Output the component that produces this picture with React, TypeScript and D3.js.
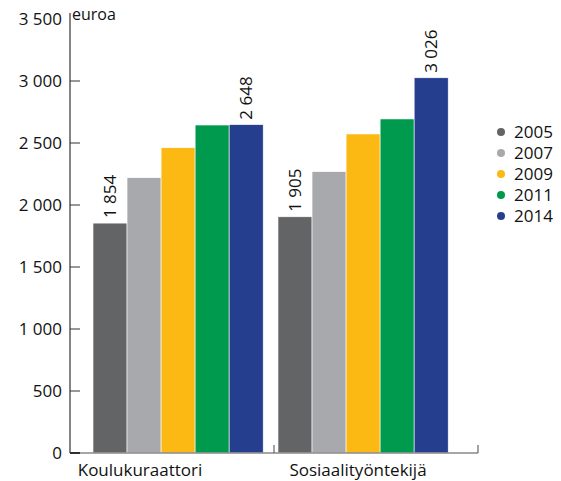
import React from "react";
import * as d3 from "d3";

const categories = ["Koulukuraattori", "Sosiaalityöntekijä"];
const years = ["2005", "2007", "2009", "2011", "2014"];
const koulukuraattori = [1854, 2220, 2462, 2645, 2648];
const sosiaalityontekija = [1905, 2269, 2573, 2694, 3026];
const seriesValues = [koulukuraattori, sosiaalityontekija];
const labeledIndex = [
  [0, 4],
  [0, 4],
];
const yTicks = [0, 500, 1000, 1500, 2000, 2500, 3000, 3500];
const colors = ["#636466", "#a7a9ac", "#fdb913", "#009a4e", "#253f8e"];

const fmt = (v: number) => {
  const s = String(v);
  return s.length > 3 ? s.slice(0, s.length - 3) + "\u00a0" + s.slice(-3) : s;
};

const FONT = "'Open Sans', 'Noto Sans', sans-serif";

export default function App() {
  const W = 561;
  const H = 481;
  const axisX = 70;
  const y = d3.scaleLinear().domain([0, 3000]).range([453, 81]);
  const axisBand = d3.scaleBand<string>().domain(categories).range([70, 478]);
  const groupBand = d3
    .scaleBand<string>()
    .domain(categories)
    .range([74.5, 466.7])
    .paddingInner(0.08)
    .paddingOuter(0.1);
  const yearBand = d3
    .scaleBand<string>()
    .domain(years)
    .range([0, groupBand.bandwidth()]);
  const labelCenters = [140, 358];

  return (
    <svg
      width={W}
      height={H}
      style={{ position: "absolute", left: 0, top: 0, background: "#fff" }}
      fontFamily={FONT}
    >
      {/* bars */}
      {categories.map((c, ci) => (
        <g key={c} transform={`translate(${groupBand(c)},0)`}>
          {years.map((yr, yi) => {
            const v = seriesValues[ci][yi];
            const x = yearBand(yr)!;
            return (
              <rect
                key={yr}
                x={x}
                y={y(v)}
                width={yearBand.bandwidth()}
                height={y(0) - y(v)}
                fill={colors[yi]}
                stroke="#fff"
                strokeWidth={0.6}
              />
            );
          })}
          {labeledIndex[ci].map((yi) => {
            const v = seriesValues[ci][yi];
            const cx = yearBand(years[yi])! + yearBand.bandwidth() / 2 + 6;
            const cy = y(v) - 5;
            return (
              <text
                key={yi}
                transform={`translate(${cx},${cy}) rotate(-90)`}
                fontSize={17}
                fill="#111"
              >
                {fmt(v)}
              </text>
            );
          })}
        </g>
      ))}

      {/* y axis */}
      <line x1={axisX} x2={axisX} y1={13} y2={y(0)} stroke="#333" strokeWidth={1.2} />
      {yTicks.map((t) => (
        <g key={t}>
          {t > 0 && t < 3500 && (
            <line x1={axisX} x2={axisX + 10} y1={y(t)} y2={y(t)} stroke="#333" strokeWidth={1} />
          )}
          <text
            x={62}
            y={y(t)}
            dy="0.35em"
            textAnchor="end"
            fontSize={17}
            fill="#111"
          >
            {fmt(t)}
          </text>
        </g>
      ))}
      <text x={72} y={20} fontSize={16} fill="#111">
        euroa
      </text>

      {/* x axis */}
      <line x1={axisX} x2={478} y1={y(0)} y2={y(0)} stroke="#888" strokeWidth={1.6} />
      <line x1={axisX} x2={axisX + 10} y1={y(0)} y2={y(0)} stroke="#111" strokeWidth={1.6} />
      {categories.map((c) => {
        const bx = axisBand(c)! + axisBand.bandwidth();
        return (
          <line key={c} x1={bx} x2={bx} y1={y(0)} y2={y(0) - 8} stroke="#666" strokeWidth={1.2} />
        );
      })}
      {categories.map((c, i) => (
        <text
          key={c}
          x={labelCenters[i]}
          y={476}
          textAnchor="middle"
          fontSize={17}
          fill="#111"
        >
          {c}
        </text>
      ))}

      {/* legend */}
      {years.map((yr, i) => (
        <g key={yr} transform={`translate(501,${132 + i * 21})`}>
          <circle r={4} fill={colors[i]} />
          <text x={13} dy="0.36em" fontSize={17} fill="#111">
            {yr}
          </text>
        </g>
      ))}
    </svg>
  );
}
